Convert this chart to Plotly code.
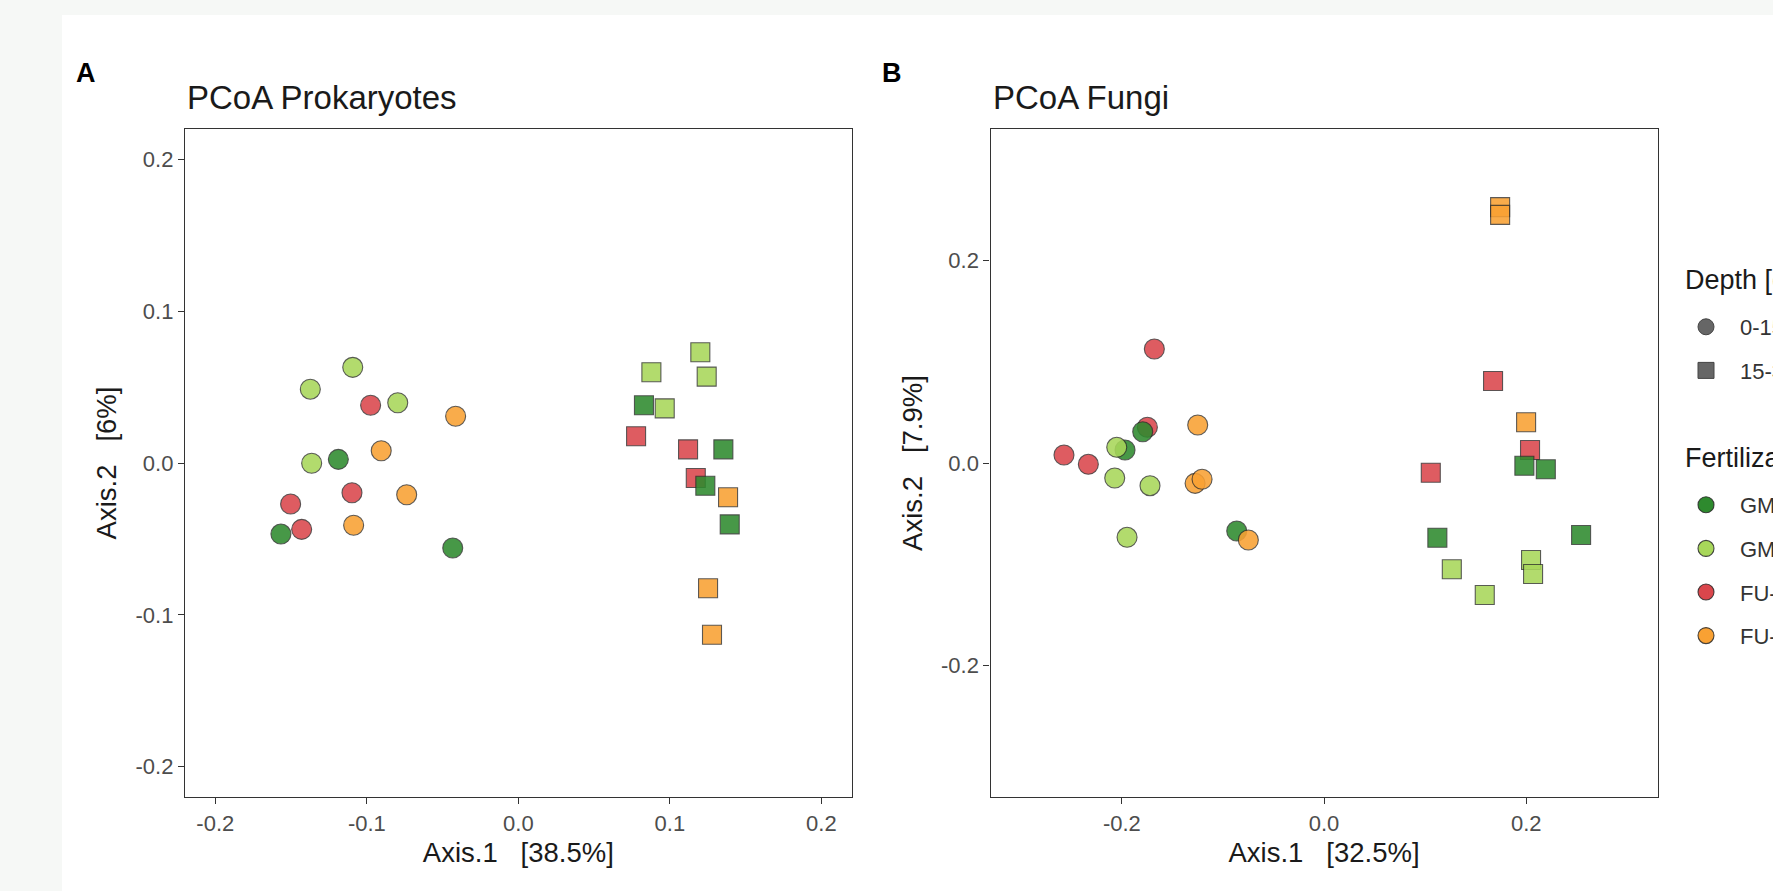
import plotly.graph_objects as go

# ---------------- data ----------------
groups = ["GM-org", "GM-min", "FU-org", "FU-min"]
group_colors = {"GM-org": "#2e8a2e", "GM-min": "#a8d75a", "FU-org": "#da464c", "FU-min": "#f9a133"}
draw_order = ["FU-org", "GM-org", "GM-min", "FU-min"]
depths = ["0-15", "15-30"]
depth_symbols = {"0-15": "circle", "15-30": "square"}

# PCoA Prokaryotes, depth 0-15
prok_top_x = [-0.1188, -0.1567, -0.0433,
              -0.1093, -0.1373, -0.0796, -0.1364,
              -0.0975, -0.1098, -0.1503, -0.1430,
              -0.0414, -0.0905, -0.0737, -0.1087]
prok_top_y = [0.0024, -0.0468, -0.0560,
              0.0630, 0.0486, 0.0397, -0.0002,
              0.0380, -0.0196, -0.0270, -0.0437,
              0.0308, 0.0081, -0.0209, -0.0410]
prok_top_g = ["GM-org"] * 3 + ["GM-min"] * 4 + ["FU-org"] * 4 + ["FU-min"] * 4

# PCoA Prokaryotes, depth 15-30
prok_sub_x = [0.0829, 0.1353, 0.1234, 0.1395,
              0.1201, 0.0878, 0.1243, 0.0966,
              0.0777, 0.1120, 0.1171,
              0.1384, 0.1252, 0.1278]
prok_sub_y = [0.0380, 0.0090, -0.0150, -0.0404,
              0.0729, 0.0598, 0.0569, 0.0360,
              0.0176, 0.0090, -0.0099,
              -0.0226, -0.0825, -0.1131]
prok_sub_g = ["GM-org"] * 4 + ["GM-min"] * 4 + ["FU-org"] * 3 + ["FU-min"] * 3

# PCoA Fungi, depth 0-15
fung_top_x = [-0.1794, -0.1969, -0.0864,
              -0.2051, -0.2071, -0.1722, -0.1949,
              -0.1679, -0.1748, -0.2573, -0.2332,
              -0.1250, -0.1276, -0.1207, -0.0749]
fung_top_y = [0.0309, 0.0128, -0.0672,
              0.0155, -0.0148, -0.0224, -0.0734,
              0.1126, 0.0353, 0.0079, -0.0013,
              0.0375, -0.0201, -0.0161, -0.0761]
fung_top_g = ["GM-org"] * 3 + ["GM-min"] * 4 + ["FU-org"] * 4 + ["FU-min"] * 4

# PCoA Fungi, depth 15-30
fung_sub_x = [0.1982, 0.2194, 0.1121, 0.2543,
              0.1264, 0.2048, 0.2068, 0.1590,
              0.1672, 0.2038, 0.1056,
              0.1742, 0.1742, 0.1999]
fung_sub_y = [-0.0027, -0.0062, -0.0738, -0.0711,
              -0.1050, -0.0958, -0.1097, -0.1304,
              0.0810, 0.0128, -0.0096,
              0.2527, 0.2451, 0.0402]
fung_sub_g = ["GM-org"] * 4 + ["GM-min"] * 4 + ["FU-org"] * 3 + ["FU-min"] * 3

prok_ticks = [-0.2, -0.1, 0.0, 0.1, 0.2]
prok_ticktext = ["-0.2", "-0.1", "0.0", "0.1", "0.2"]
fung_ticks = [-0.2, 0.0, 0.2]
fung_ticktext = ["-0.2", "0.0", "0.2"]

# ---------------- figure ----------------
W, H = 1773, 891
fig = go.Figure()

FONT = "Liberation Sans, Arial, Helvetica, sans-serif"
EDGE = "rgba(40,40,40,0.85)"


def add_panel(xs, ys, gs, depth, xa, ya):
    for g in draw_order:
        px = [x for x, gg in zip(xs, gs) if gg == g]
        py = [y for y, gg in zip(ys, gs) if gg == g]
        fig.add_trace(go.Scatter(
            x=px, y=py, mode="markers", xaxis=xa, yaxis=ya, showlegend=False,
            name=f"{g} {depth}",
            marker=dict(symbol=depth_symbols[depth],
                        size=20 if depth == "0-15" else 19,
                        color=group_colors[g], opacity=0.88,
                        line=dict(color=EDGE, width=1.1)),
            hoverinfo="x+y+name"))


add_panel(prok_top_x, prok_top_y, prok_top_g, "0-15", "x", "y")
add_panel(prok_sub_x, prok_sub_y, prok_sub_g, "15-30", "x", "y")
add_panel(fung_top_x, fung_top_y, fung_top_g, "0-15", "x2", "y2")
add_panel(fung_sub_x, fung_sub_y, fung_sub_g, "15-30", "x2", "y2")

# legend entries
for d in depths:
    fig.add_trace(go.Scatter(
        x=[None], y=[None], mode="markers", name=d, legend="legend",
        legendgroup="d" + d, showlegend=True,
        marker=dict(symbol=depth_symbols[d], size=19, color="#666666",
                    line=dict(color="#444444", width=1))))
for g in groups:
    fig.add_trace(go.Scatter(
        x=[None], y=[None], mode="markers", name=g, legend="legend2",
        legendgroup="g" + g, showlegend=True,
        marker=dict(symbol="circle", size=19, color=group_colors[g],
                    line=dict(color=EDGE, width=1.1))))

pA = (185.0, 851.7)
pB = (990.5, 1657.6)
top_px, bot_px = 128.9, 797.1
ydom = [1 - bot_px / H, 1 - top_px / H]

axis_common = dict(
    showline=True, mirror=True, linecolor="#333333", linewidth=1.4,
    ticks="outside", ticklen=6, tickwidth=1.3, tickcolor="#333333",
    tickfont=dict(family=FONT, size=22, color="#4d4d4d"),
    showgrid=False, zeroline=False, fixedrange=True, automargin=False,
)
SP = "\u00a0\u00a0\u00a0"
AXT = dict(family=FONT, size=27.5, color="#1a1a1a")

legend_common = dict(
    xref="container", yref="container", xanchor="left", yanchor="top",
    font=dict(family=FONT, size=22, color="#333333"),
    bgcolor="rgba(0,0,0,0)", borderwidth=0,
    traceorder="grouped", tracegroupgap=12, itemwidth=58,
)

fig.update_layout(
    width=W, height=H,
    margin=dict(l=0, r=0, t=0, b=0, autoexpand=False),
    paper_bgcolor="#f6f8f6", plot_bgcolor="white",
    font=dict(family=FONT, color="#1a1a1a"),
    xaxis=dict(axis_common, domain=[pA[0] / W, pA[1] / W], range=[-0.22, 0.22],
               tickvals=prok_ticks, ticktext=prok_ticktext, anchor="y",
               title=dict(text="Axis.1" + SP + "[38.5%]", standoff=8, font=AXT)),
    yaxis=dict(axis_common, domain=ydom, range=[-0.22, 0.22],
               tickvals=prok_ticks, ticktext=prok_ticktext, anchor="x",
               title=dict(text="Axis.2" + SP + "[6%]", standoff=10, font=AXT)),
    xaxis2=dict(axis_common, domain=[pB[0] / W, pB[1] / W], range=[-0.33, 0.33],
                tickvals=fung_ticks, ticktext=fung_ticktext, anchor="y2",
                title=dict(text="Axis.1" + SP + "[32.5%]", standoff=8, font=AXT)),
    yaxis2=dict(axis_common, domain=ydom, range=[-0.33, 0.33],
                tickvals=fung_ticks, ticktext=fung_ticktext, anchor="x2",
                title=dict(text="Axis.2" + SP + "[7.9%]", standoff=10, font=AXT)),
    legend=dict(legend_common, x=1672 / W, y=1 - 306 / H),
    legend2=dict(legend_common, x=1672 / W, y=1 - 484 / H),
    shapes=[dict(type="rect", xref="paper", yref="paper", layer="below",
                 x0=62 / W, x1=1.0, y0=0.0, y1=1 - 15 / H,
                 fillcolor="white", line=dict(width=0))],
    annotations=[
        dict(text="A", x=74 / W, y=1 - 73 / H, xref="paper", yref="paper",
             xanchor="left", yanchor="middle", showarrow=False,
             font=dict(family=FONT, size=27, color="black", weight="bold")),
        dict(text="B", x=880 / W, y=1 - 73 / H, xref="paper", yref="paper",
             xanchor="left", yanchor="middle", showarrow=False,
             font=dict(family=FONT, size=27, color="black", weight="bold")),
        dict(text="PCoA Prokaryotes", x=pA[0] / W, y=1 - 97 / H, xref="paper", yref="paper",
             xanchor="left", yanchor="middle", showarrow=False,
             font=dict(family=FONT, size=33, color="#1a1a1a")),
        dict(text="PCoA Fungi", x=pB[0] / W, y=1 - 97 / H, xref="paper", yref="paper",
             xanchor="left", yanchor="middle", showarrow=False,
             font=dict(family=FONT, size=33, color="#1a1a1a")),
        dict(text="Depth [cm]", x=1683 / W, y=1 - 280 / H, xref="paper", yref="paper",
             xanchor="left", yanchor="middle", showarrow=False,
             font=dict(family=FONT, size=27, color="#1a1a1a")),
        dict(text="Fertilization", x=1683 / W, y=1 - 458 / H, xref="paper", yref="paper",
             xanchor="left", yanchor="middle", showarrow=False,
             font=dict(family=FONT, size=27, color="#1a1a1a")),
    ],
)

fig.write_html("out.html", config={"displayModeBar": False},
               post_script="document.body.style.margin='0';document.body.style.overflow='hidden';")
